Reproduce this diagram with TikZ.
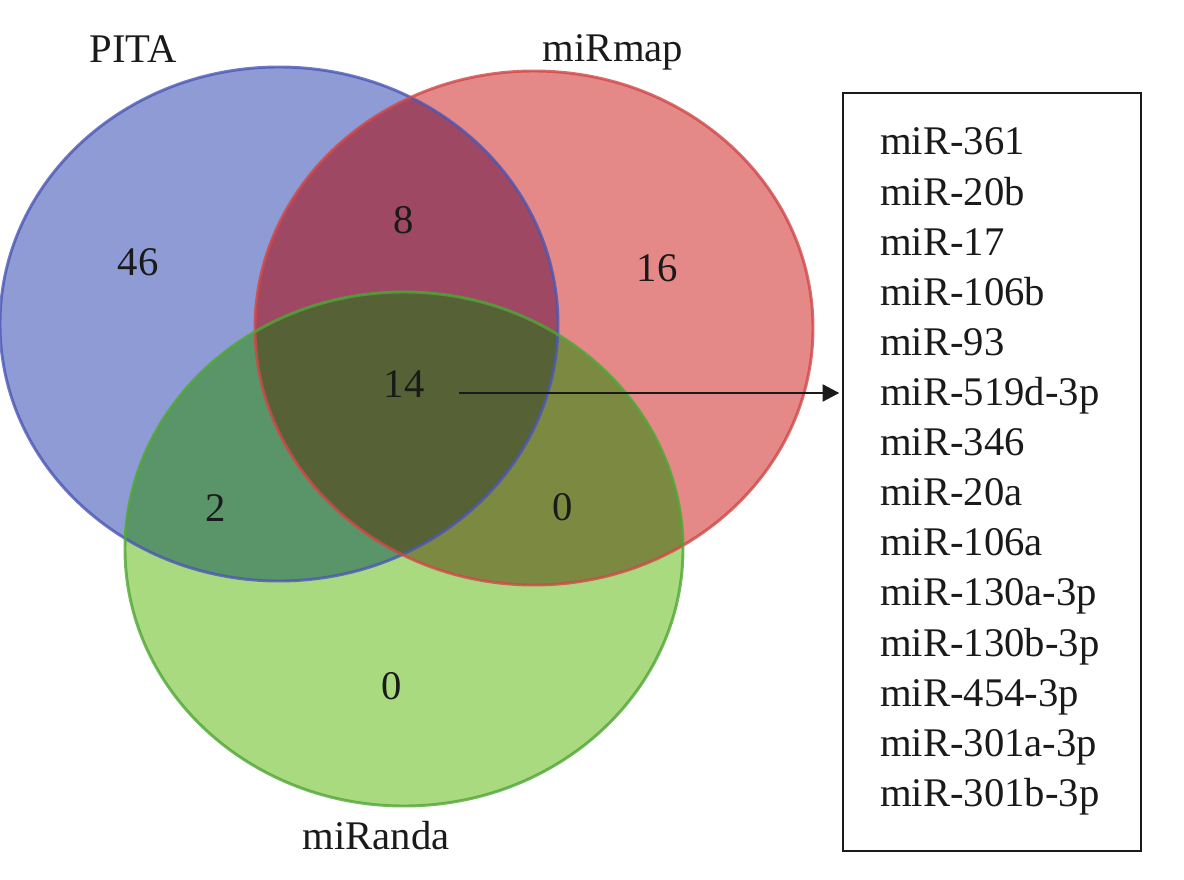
\documentclass[tikz,border=0pt]{standalone}
\usepackage{fontspec}
\setmainfont{Liberation Serif}
\usetikzlibrary{arrows.meta}
\definecolor{fB}{HTML}{8F9BD5}
\definecolor{fR}{HTML}{E48888}
\definecolor{fG}{HTML}{A9DA7F}
\definecolor{fBR}{HTML}{9E4864}
\definecolor{fBG}{HTML}{5A9469}
\definecolor{fRG}{HTML}{7C8A41}
\definecolor{fBRG}{HTML}{566135}
\definecolor{sB}{HTML}{4B57B5}
\definecolor{sR}{HTML}{D04848}
\definecolor{sG}{HTML}{4FA636}
\definecolor{txt}{HTML}{1A1A1A}
\begin{document}
\begin{tikzpicture}[x=0.75pt,y=-0.75pt,
  lbl/.style={font=\fontsize{30.5}{36}\selectfont, text=txt, inner sep=0pt},
  rim/.style={line width=2.2pt, draw opacity=0.8},
  listbox/.style={draw=txt, line width=1.5pt, minimum width=223.5pt, minimum height=568.5pt, inner sep=0pt},
  pointer/.style={draw=txt, line width=2.2pt, shorten >=2pt, -{Triangle[length=12.5pt,width=12.5pt]}}]
\useasboundingbox (0,0) rectangle (1184,880);
\coordinate (cb) at (279,324);
\coordinate (cr) at (534,328);
\coordinate (cg) at (404,549);
% single regions
\fill[fB] (cb) ellipse [x radius=279, y radius=257];
\fill[fR] (cr) ellipse [x radius=279, y radius=257];
\fill[fG] (cg) ellipse [x radius=279, y radius=257];
% pairwise regions
\begin{scope}
  \clip (cb) ellipse [x radius=279, y radius=257];
  \fill[fBR] (cr) ellipse [x radius=279, y radius=257];
  \fill[fBG] (cg) ellipse [x radius=279, y radius=257];
\end{scope}
\begin{scope}
  \clip (cr) ellipse [x radius=279, y radius=257];
  \fill[fRG] (cg) ellipse [x radius=279, y radius=257];
\end{scope}
\begin{scope}
  \clip (cb) ellipse [x radius=279, y radius=257];
  \clip (cr) ellipse [x radius=279, y radius=257];
  \fill[fBRG] (cg) ellipse [x radius=279, y radius=257];
\end{scope}
% outlines
\draw[rim, sB] (cb) ellipse [x radius=279, y radius=257];
\draw[rim, sR] (cr) ellipse [x radius=279, y radius=257];
\draw[rim, sG] (cg) ellipse [x radius=279, y radius=257];
% set labels
\node[lbl, anchor=base] (pita) at (133,63) {PITA};
\node[lbl, anchor=base] (mirmap) at (613,62) {miRmap};
\node[lbl, anchor=base] (miranda) at (376,849) {miRanda};
% counts
\node[lbl] (n46) at (138,262) {46};
\node[lbl] (n8) at (404,220) {8};
\node[lbl] (n16) at (657,268) {16};
\node[lbl] (n14) at (404,384) {14};
\node[lbl] (n2) at (216,508) {2};
\node[lbl] (n0a) at (563,507) {0};
\node[lbl] (n0b) at (392,686) {0};
% list box
\node[listbox] (box) at (992,472) {};
\foreach \t [count=\i] in {miR-361,miR-20b,miR-17,miR-106b,miR-93,miR-519d-3p,miR-346,miR-20a,miR-106a,miR-130a-3p,miR-130b-3p,miR-454-3p,miR-301a-3p,miR-301b-3p}
  \node[lbl, anchor=base west] (l\i) at (880,{155+(\i-1)*50.1}) {\t};
% arrow
\coordinate (astart) at (459,393);
\draw[pointer] (astart) -- (astart -| box.west);
\end{tikzpicture}
\end{document}
